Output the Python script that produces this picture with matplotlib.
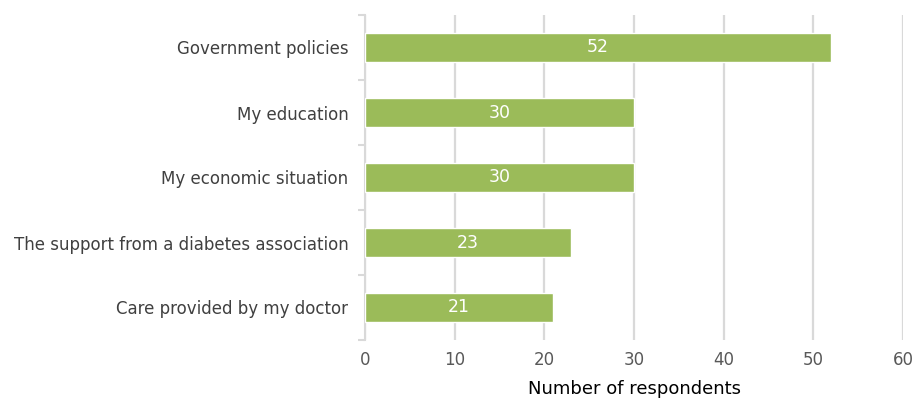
import numpy as np
import matplotlib
matplotlib.use('Agg')
import matplotlib.pyplot as plt

# Survey responses, top row first
categories = ['Government policies', 'My education', 'My economic situation',
              'The support from a diabetes association', 'Care provided by my doctor']
counts = [52, 30, 30, 23, 21]
xticks = [0, 10, 20, 30, 40, 50, 60]

plt.rcParams['font.family'] = ['DejaVu Sans']

fig = plt.figure(figsize=(9.13, 3.99), dpi=100)
ax = fig.add_axes([365 / 913, 59 / 399, 538 / 913, 325 / 399])

y = np.arange(len(categories))
bars = ax.barh(y, counts, height=0.44, color='#9BBB59', edgecolor='white',
               linewidth=1, zorder=3)

for bar, val in zip(bars, counts):
    ax.text(bar.get_width() / 2, bar.get_y() + bar.get_height() / 2, str(val),
            ha='center', va='center', color='white', fontsize=12.5, zorder=4)

ax.set_xlim(0, 60)
ax.set_ylim(len(categories) - 0.5, -0.5)
ax.set_xticks(xticks)
ax.set_xticklabels([str(t) for t in xticks], fontsize=12, color='#595959')
ax.tick_params(axis='x', length=0, pad=8)
ax.grid(axis='x', color='#d9d9d9', linewidth=1.6, zorder=0)

ax.set_yticks(y)
ax.set_yticklabels(categories, fontsize=12, color='#404040')
ax.tick_params(axis='y', length=0, pad=12)
# small boundary ticks on the category axis
ax.set_yticks(np.arange(-0.5, len(categories), 1), minor=True)
ax.tick_params(axis='y', which='minor', length=5, color='#d9d9d9', width=1.5)

for s in ['top', 'right', 'bottom']:
    ax.spines[s].set_visible(False)
ax.spines['left'].set_color('#d9d9d9')
ax.spines['left'].set_linewidth(1.5)

ax.set_xlabel('Number of respondents', fontsize=13, color='black', labelpad=8)

fig.savefig('out.png', dpi=100)
